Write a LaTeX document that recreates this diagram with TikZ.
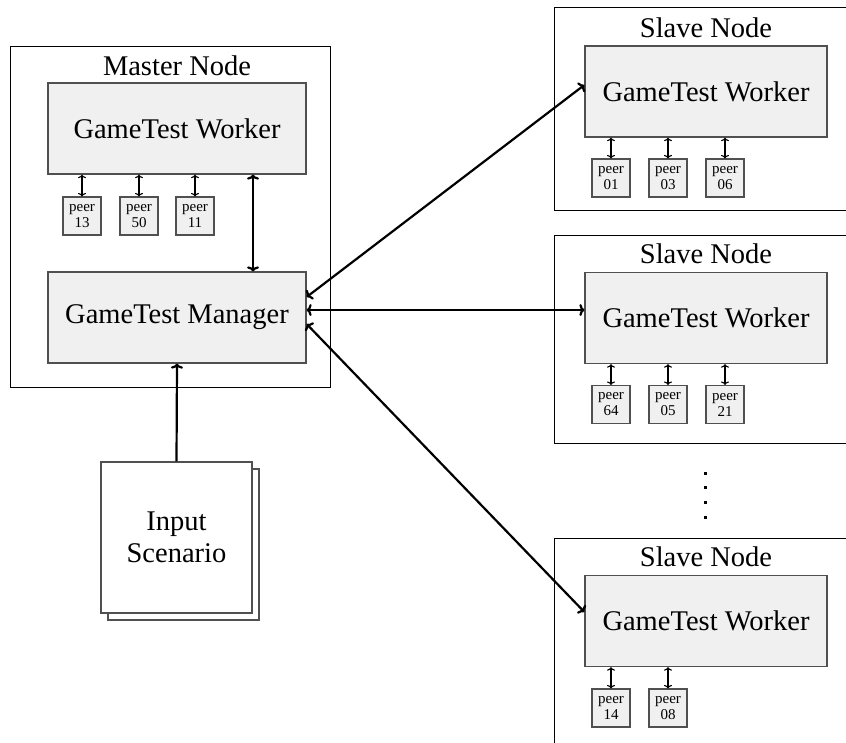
\documentclass[tikz,border=0pt]{standalone}
\usepackage{fontspec}
\setmainfont{Liberation Serif}
\usetikzlibrary{arrows.meta,calc}
\definecolor{boxfill}{HTML}{F0F0F0}
\definecolor{boxline}{HTML}{505050}
\tikzset{
  outerbox/.style={draw=black, line width=1pt, minimum width=#1, inner sep=0pt},
  bigbox/.style={draw=boxline, fill=boxfill, line width=1.3pt, inner sep=0pt,
    font=\fontsize{28.5}{32}\selectfont, align=center},
  peerbox/.style={draw=boxline, fill=boxfill, line width=1.1pt, minimum width=38pt,
    minimum height=38pt, inner sep=0pt, font=\fontsize{15}{16}\selectfont, align=center},
  title/.style={font=\fontsize{28.5}{32}\selectfont, inner sep=0pt},
  thickarrow/.style={line width=2.2pt, {To[length=5pt,width=12pt]}-{To[length=5pt,width=12pt]}},
  onearrow/.style={line width=2.2pt, -{To[length=5pt,width=12pt]}},
  peerarrow/.style={line width=1.1pt, {To[length=3.5pt,width=8pt]}-{To[length=3.5pt,width=8pt]}},
  page/.style={draw=boxline, fill=white, line width=1.1pt, minimum width=151pt,
    minimum height=151pt, inner sep=0pt, font=\fontsize{28.5}{32}\selectfont, align=center},
}
\begin{document}
\begin{tikzpicture}[x=1pt,y=-1pt]
\clip (0,0) rectangle (846,742);
\useasboundingbox (0,0) rectangle (846,742);

% Master node
\node[outerbox=320pt, minimum height=341pt] (master) at (170,216.5) {};
\node[title] (mtitle) at (177,66) {Master Node};
\node[bigbox, minimum width=258pt, minimum height=91pt] (mw) at (177,128.5) {GameTest Worker};
\node[bigbox, minimum width=258pt, minimum height=91pt] (mgr) at (177,317.5) {GameTest Manager};
\node[peerbox] (p13) at (82,216) {peer\\13};
\node[peerbox] (p50) at (139,216) {peer\\50};
\node[peerbox] (p11) at (195,216) {peer\\11};
\foreach \p in {p13,p50,p11}
  \draw[peerarrow] (\p.north |- mw.south) -- (\p.north);
\draw[thickarrow] ([xshift=76pt]mw.south) -- ([xshift=76pt]mgr.north);

% Input scenario
\node[page] (inback) at (183.5,544.5) {};
\node[page] (input) at (176.5,537.5) {Input\\Scenario};
\draw[onearrow] (input.north) -- (mgr.south);

% Slave 1
\node[outerbox=304pt, minimum height=203pt] (s1) at (706,108.5) {};
\node[title] (s1t) at (706,28) {Slave Node};
\node[bigbox, minimum width=242pt, minimum height=91pt] (sw1) at (706,91.5) {GameTest Worker};
\node[peerbox] (q01) at (611,178) {peer\\01};
\node[peerbox] (q03) at (668,178) {peer\\03};
\node[peerbox] (q06) at (725,178) {peer\\06};
\foreach \p in {q01,q03,q06}
  \draw[peerarrow] (\p.north |- sw1.south) -- (\p.north);

% Slave 2
\node[outerbox=304pt, minimum height=208pt] (s2) at (706,339) {};
\node[title] (s2t) at (706,254) {Slave Node};
\node[bigbox, minimum width=242pt, minimum height=91pt] (sw2) at (706,318) {GameTest Worker};
\node[peerbox] (q64) at (611,404.5) {peer\\64};
\node[peerbox] (q05) at (668,404.5) {peer\\05};
\node[peerbox] (q21) at (725,404.5) {peer\\21};
\foreach \p in {q64,q05,q21}
  \draw[peerarrow] (\p.north |- sw2.south) -- (\p.north);

% dots
\foreach \yy in {473,487,502,517}
  \fill (703.5,\yy-1.5) rectangle (706.5,\yy+1.5);

% Slave 3
\node[outerbox=304pt, minimum height=260pt] (s3) at (706,668) {};
\node[title] (s3t) at (706,557) {Slave Node};
\node[bigbox, minimum width=242pt, minimum height=91pt] (sw3) at (706,621) {GameTest Worker};
\node[peerbox] (q14) at (611,708) {peer\\14};
\node[peerbox] (q08) at (668,708) {peer\\08};
\foreach \p in {q14,q08}
  \draw[peerarrow] (\p.north |- sw3.south) -- (\p.north);

% manager <-> slaves
\draw[thickarrow] ([yshift=20.5pt]mgr.east) -- ([yshift=6.5pt]sw1.west);
\draw[thickarrow] ([yshift=7.5pt]mgr.east) -- ([yshift=8pt]sw2.west);
\draw[thickarrow] ([yshift=-6.5pt]mgr.east) -- ([yshift=9pt]sw3.west);
\end{tikzpicture}
\end{document}
